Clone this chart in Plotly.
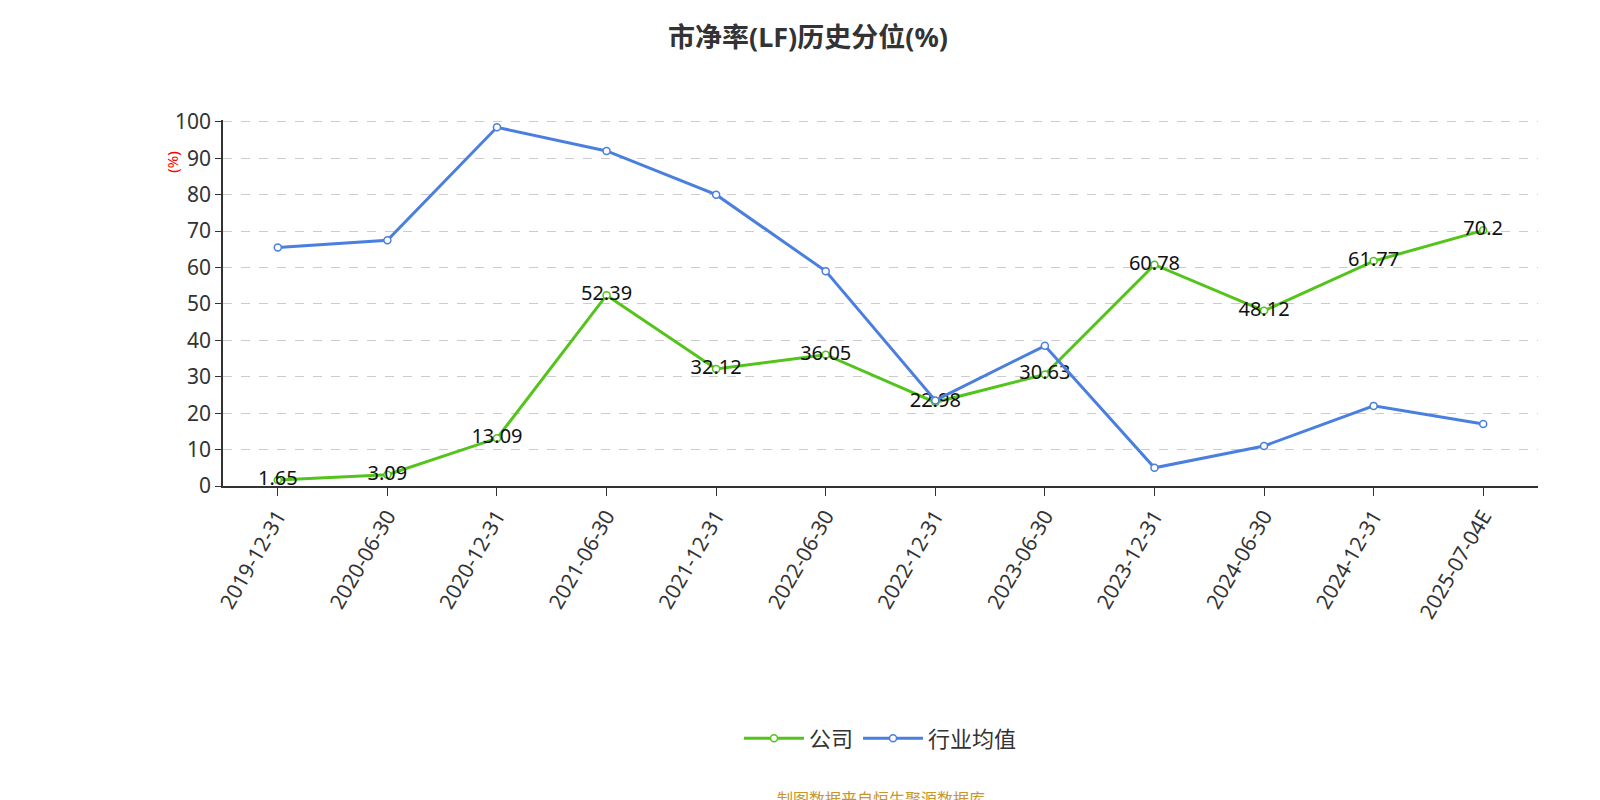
import plotly.graph_objects as go

dates = ["2019-12-31","2020-06-30","2020-12-31","2021-06-30","2021-12-31","2022-06-30",
         "2022-12-31","2023-06-30","2023-12-31","2024-06-30","2024-12-31","2025-07-04E"]
company = [1.65,3.09,13.09,52.39,32.12,36.05,22.98,30.63,60.78,48.12,61.77,70.2]
industry = [65.5,67.5,98.5,92,80,59,23.5,38.5,5,11,22,17]

font = "Noto Sans, Noto Sans CJK SC"
fig = go.Figure()
fig.add_trace(go.Scatter(x=dates, y=company, name="公司", mode="lines+markers+text",
    line=dict(color="#52c41a", width=3),
    marker=dict(size=7, color="white", line=dict(color="#52c41a", width=1.5)),
    text=[str(v) for v in company], textposition="middle center",
    textfont=dict(size=20, color="#111", family=font)))
fig.add_trace(go.Scatter(x=dates, y=industry, name="行业均值", mode="lines+markers",
    line=dict(color="#4a7fe0", width=3),
    marker=dict(size=7, color="white", line=dict(color="#4a7fe0", width=1.5))))
fig.update_layout(
    width=1600, height=800, paper_bgcolor="white", plot_bgcolor="white",
    margin=dict(l=215, r=70, t=112, b=322),
    font=dict(family=font, color="#333"),
    title=dict(text="<b>市净率(LF)历史分位(%)</b>", x=0.5, xanchor="center", y=0.975, yanchor="top",
               font=dict(size=27, color="#333")),
    xaxis=dict(type="category", range=[-0.5, 11.5], showline=True, linecolor="#333", linewidth=1.5,
               ticks="outside", ticklen=8, tickcolor="#333", tickangle=-60, showgrid=False,
               tickfont=dict(size=21, color="#333")),
    yaxis=dict(range=[0, 100.5], dtick=10, showline=True, linecolor="#333", linewidth=1.5,
               ticks="outside", ticklen=6, tickcolor="#333", showgrid=True, gridcolor="#ccc",
               griddash="dash", zeroline=False, tickfont=dict(size=21, color="#333")),
    legend=dict(orientation="h", x=0.5, xanchor="center", y=-0.69, yanchor="middle",
                font=dict(size=22, color="#333"), itemwidth=60),
    showlegend=True,
)
fig.add_annotation(text="(%)", xref="paper", yref="paper", x=-0.048, y=0.92, textangle=-90,
                   showarrow=False, font=dict(size=15, color="red"))
fig.add_annotation(text="制图数据来自恒生聚源数据库", xref="paper", yref="paper", x=0.5, y=-0.89,
                   showarrow=False, font=dict(size=16, color="#c8962a"))
fig.write_html("out.html")
